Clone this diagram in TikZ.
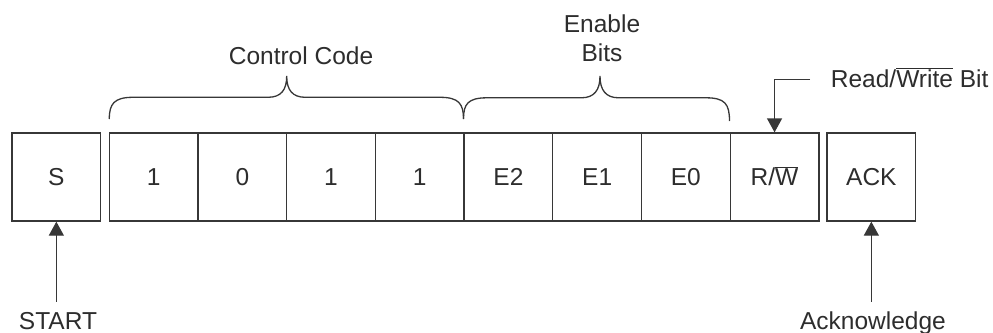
\documentclass[tikz,border=0pt]{standalone}
\usepackage{fontspec}
\setmainfont{Liberation Sans}
\usetikzlibrary{arrows.meta}
\definecolor{ln}{RGB}{55,55,55}
\definecolor{tx}{RGB}{45,45,45}
\begin{document}
\begin{tikzpicture}[x=1pt,y=-1pt,
  cell/.style={draw=ln, line width=1.3pt, minimum width=88.7pt, minimum height=88pt, inner sep=0pt, text height=17.6pt, text depth=0pt, font=\fontsize{24.5}{28}\selectfont, text=tx},
  lbl/.style={inner sep=0pt, font=\fontsize{24.5}{28}\selectfont, text=tx},
  arr/.style={draw=ln, line width=1.3pt, -{Triangle[length=14pt,width=15pt]}},
  brc/.style={draw=ln, line width=1.3pt}]
\useasboundingbox (0,0) rectangle (993,332);
% boxes
\node[cell] (S) at (56.35,177) {S};
\node[cell] (c1) at (153.65,177) {1};
\node[cell] (c2) at (242.35,177) {0};
\node[cell] (c3) at (331.05,177) {1};
\node[cell] (c4) at (419.75,177) {1};
\node[cell] (e2) at (508.45,177) {E2};
\node[cell] (e1) at (597.15,177) {E1};
\node[cell] (e0) at (685.85,177) {E0};
\node[cell] (rw) at (774.55,177) {R/$\overline{\hbox{W}}$};
\node[cell] (ack) at (871.35,177) {ACK};
% labels
\node[lbl, anchor=base] (cc) at (301,64.5) {Control Code};
\node[lbl, anchor=base] (en) at (602,32.3) {Enable};
\node[lbl, anchor=base] (bits) at (602,61.7) {Bits};
\node[lbl, anchor=base west] (rwl) at (830.7,87) {Read/$\overline{\hbox{Write}}$ Bit};
\node[lbl, anchor=base] (start) at (58,329) {START};
\node[lbl, anchor=base] (ackl) at (873,329) {Acknowledge};
% braces
\draw[brc] (109.3,119) .. controls (109.3,104) and (114,97.3) .. (133,97.3) -- (268,97.3) .. controls (281,97.3) and (286.7,90) .. (286.7,76) .. controls (286.7,90) and (292.4,97.3) .. (305.4,97.3) -- (440,97.3) .. controls (459,97.3) and (463.5,104) .. (463.5,119);
\draw[brc] (463.5,119) .. controls (463.5,104) and (468,97.8) .. (487,97.8) -- (581.3,97.8) .. controls (594.3,97.8) and (600,90) .. (600,76) .. controls (600,90) and (605.7,97.8) .. (618.7,97.8) -- (706,97.8) .. controls (725,97.8) and (729.5,104) .. (729.5,121);
% arrows
\coordinate (st) at (56.35,301.7);
\coordinate (at) at (871.35,301.7);
\coordinate (rt) at (810,79.3);
\draw[arr] (st) -- (S.south);
\draw[arr] (at) -- (ack.south);
\draw[arr] (rt) -| (rw.north);
\end{tikzpicture}
\end{document}
